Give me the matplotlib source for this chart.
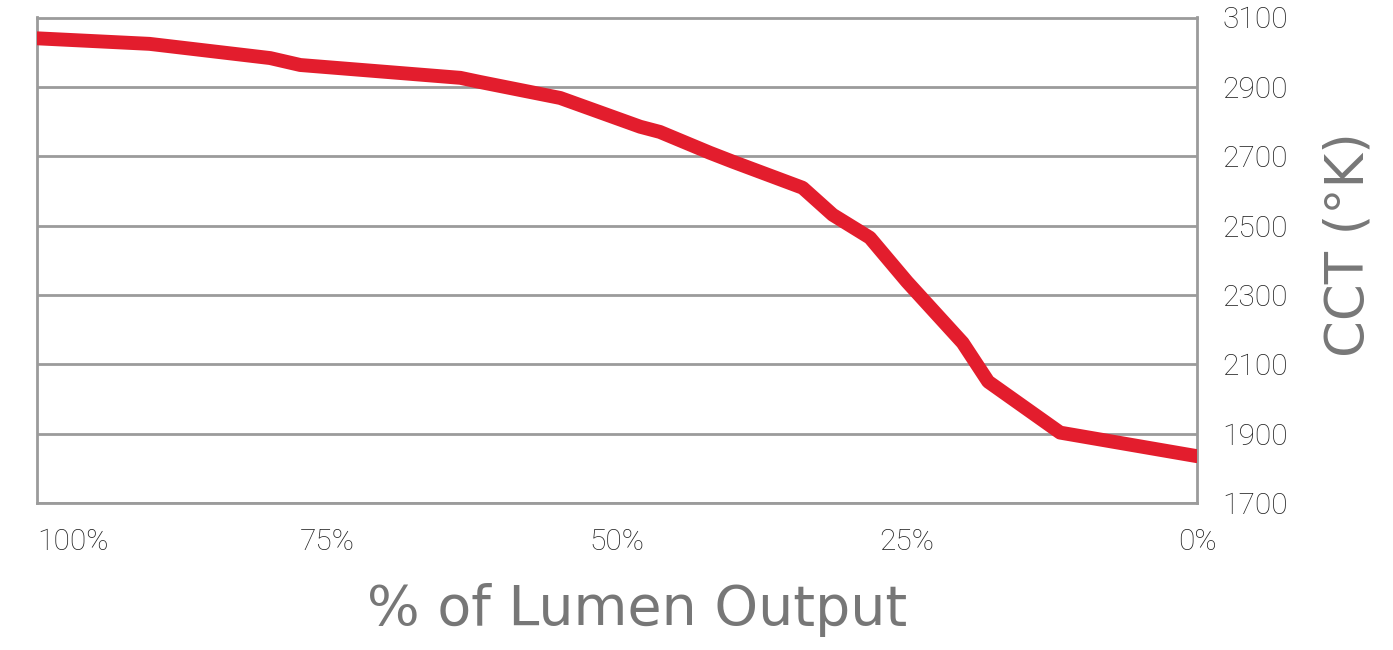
import matplotlib
matplotlib.use('Agg')
import matplotlib.pyplot as plt

# % of lumen output vs CCT
lumen = [100, 90.3, 79.9, 77.3, 63.5, 61.8, 54.9, 48.0, 46.3, 42.0, 40.0,
         34.0, 31.4, 28.2, 25.0, 20.2, 18.0, 11.8, 0]
cct = [3040, 3024, 2983, 2963, 2926, 2914, 2868, 2785, 2770, 2710, 2684,
       2609, 2531, 2465, 2338, 2162, 2050, 1903, 1835]

xticks = [100, 75, 50, 25, 0]
xlabels = ['100%', '75%', '50%', '25%', '0%']
yticks = [1700, 1900, 2100, 2300, 2500, 2700, 2900, 3100]

grid_col = '#9b9b9b'
label_col = '#777777'

fig = plt.figure(figsize=(13.93, 6.5), dpi=100)
ax = fig.add_axes([37/1393, 147/650, 1160/1393, 485.5/650])

ax.plot(lumen, cct, color='#e31d2d', lw=10, solid_capstyle='round',
        solid_joinstyle='round', zorder=3)

ax.set_xlim(100, 0)
ax.set_ylim(1700, 3100)
ax.set_xticks(xticks)
ax.set_xticklabels(xlabels)
ax.set_yticks(yticks)
ax.yaxis.tick_right()
ax.tick_params(axis='both', length=0, labelsize=21.5, labelcolor='#222222')
ax.tick_params(axis='y', pad=18)
ax.tick_params(axis='x', pad=18)
for lab in ax.get_xticklabels() + ax.get_yticklabels():
    lab.set_fontfamily('Roboto')
    lab.set_fontweight('light')
ax.get_xticklabels()[0].set_ha('left')

ax.grid(axis='y', color=grid_col, lw=2)
ax.set_axisbelow(True)
for s in ax.spines.values():
    s.set_color(grid_col)
    s.set_linewidth(2)

fig.text(637/1393, 1 - 610/650, '% of Lumen Output', fontsize=40,
         family='DejaVu Sans', color=label_col, ha='center', va='center')
fig.text(1349/1393, 1 - 245/650, 'CCT (°K)', fontsize=38, rotation=90,
         family='DejaVu Sans', color=label_col, ha='center', va='center')

plt.savefig('out.png', dpi=100)
